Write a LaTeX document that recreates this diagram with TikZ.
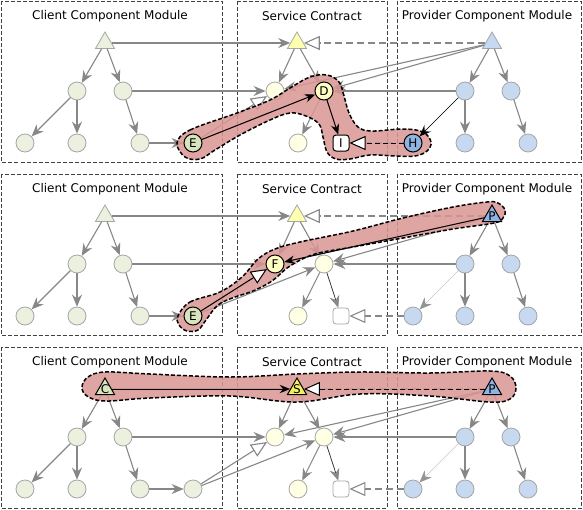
\documentclass[tikz,border=0pt]{standalone}
\usepackage{fontspec}
\setmainfont{DejaVu Sans}
\usetikzlibrary{arrows.meta,shapes.geometric}
\definecolor{clientfill}{HTML}{EBF1DE}
\definecolor{clientdark}{HTML}{D7E4BD}
\definecolor{servfill}{HTML}{FFFFE3}
\definecolor{servtri}{HTML}{FFFFB0}
\definecolor{servdark}{HTML}{FFFFC4}
\definecolor{servvivid}{HTML}{F5F060}
\definecolor{provfill}{HTML}{C6D9F1}
\definecolor{provdark}{HTML}{8DB4E2}
\definecolor{blobred}{HTML}{D99694}

\begin{document}
\begin{tikzpicture}[x=1pt,y=-1pt,font=\fontsize{12}{14}\selectfont]
  \tikzstyle{modbox}=[draw=black!75,line width=0.9pt,dash pattern=on 4pt off 2pt]
  \tikzstyle{comp}=[circle,draw=black!35,line width=0.8pt,minimum size=18pt,inner sep=0pt]
  \tikzstyle{rtri}=[regular polygon,regular polygon sides=3,draw=black!35,line width=0.8pt,minimum size=22pt,inner sep=0pt]
  \tikzstyle{port}=[rectangle,rounded corners=3pt,draw=black!35,fill=white,line width=0.8pt,minimum size=16pt,inner sep=0pt]
  \tikzstyle{hcomp}=[comp,draw=black,line width=1pt]
  \tikzstyle{hrtri}=[rtri,draw=black,line width=1pt]
  \tikzstyle{hport}=[port,draw=black,line width=1pt]
  \tikzstyle{link}=[draw=black!47,line width=1.1pt,-{Stealth[length=12pt,width=10pt,inset=4pt]}]
  \tikzstyle{lite}=[draw=black!22,line width=0.6pt,-{Stealth[length=12pt,width=10pt,inset=4pt,color=black!42]}]
  \tikzstyle{tolink}=[draw=black!85,line width=0.7pt,-{Stealth[length=12pt,width=10pt,inset=4pt,color=black!47]}]
  \tikzstyle{realize}=[draw=black!47,line width=1.1pt,-{Triangle[length=16pt,width=14pt,fill=white]}]
  \tikzstyle{drealize}=[realize,dash pattern=on 7pt off 4pt]
  \tikzstyle{hlink}=[draw=black,line width=1pt,-{Stealth[length=10pt,width=8pt,inset=3pt]}]
  \tikzstyle{hrealize}=[draw=black,line width=1pt,-{Triangle[length=16pt,width=14pt,fill=white]}]
  \tikzstyle{hdrealize}=[hrealize,dash pattern=on 5pt off 3pt]
  \tikzstyle{hblob}=[fill=blobred,fill opacity=0.85,draw=black,line width=1.5pt,dash pattern=on 4pt off 2pt]
  \useasboundingbox (0,0) rectangle (583,509);
  \fill[white] (0,0) rectangle (583,509);

  % the three copies of the same module picture
  \foreach \p/\o in {1/0,2/173,3/346} {
    \draw[modbox] (1.5,1+\o) rectangle (222,162+\o);
    \draw[modbox] (237,1+\o) rectangle (387,162+\o);
    \draw[modbox] (397,1+\o) rectangle (581.5,162+\o);
    \node (ctitle\p) at (110,16+\o) {Client Component Module};
    \node (stitle\p) at (312,16+\o) {Service Contract};
    \node (ptitle\p) at (487,16+\o) {Provider Component Module};
    % client tree
    \node[rtri,fill=clientfill] (ct\p) at (105,43+\o) {};
    \node[comp,fill=clientfill] (ca\p) at (77,91+\o) {};
    \node[comp,fill=clientfill] (cb\p) at (123,91+\o) {};
    \node[comp,fill=clientfill] (cc\p) at (25,143+\o) {};
    \node[comp,fill=clientfill] (cd\p) at (77,143+\o) {};
    \node[comp,fill=clientfill] (ce\p) at (140,143+\o) {};
    \node[comp,fill=clientfill] (cf\p) at (193,143+\o) {};
    % service contract
    \node[rtri,fill=servtri] (st\p) at (297,43+\o) {};
    \node[comp,fill=servfill] (sa\p) at (275,91+\o) {};
    \node[comp,fill=servfill] (sb\p) at (324,91+\o) {};
    \node[comp,fill=servfill] (sc\p) at (298,143+\o) {};
    \node[port] (sq\p) at (341,143+\o) {};
    % provider tree
    \node[rtri,fill=provfill] (pt\p) at (492,43+\o) {};
    \node[comp,fill=provfill] (pa\p) at (465,91+\o) {};
    \node[comp,fill=provfill] (pb\p) at (511,91+\o) {};
    \node[comp,fill=provfill] (pc\p) at (413,143+\o) {};
    \node[comp,fill=provfill] (pd\p) at (465,143+\o) {};
    \node[comp,fill=provfill] (pe\p) at (528,143+\o) {};
    % edges inside modules
    \draw[link] (ct\p) -- (ca\p);
    \draw[link] (ct\p) -- (cb\p);
    \draw[link] (ca\p) -- (cc\p);
    \draw[link] (ca\p) -- (cd\p);
    \draw[link] (cb\p) -- (ce\p);
    \draw[link] (ce\p) -- (cf\p);
    \draw[link] (st\p) -- (sa\p);
    \draw[link] (st\p) -- (sb\p);
    \draw[link] (sb\p) -- (sc\p);
    \draw[tolink] (sb\p) -- (sq\p);
    \draw[link] (pt\p) -- (pa\p);
    \draw[link] (pt\p) -- (pb\p);
    \draw[lite] (pa\p) -- (pc\p);
    \draw[link] (pa\p) -- (pd\p);
    \draw[link] (pb\p) -- (pe\p);
    % edges across modules
    \draw[link] (ct\p) -- (st\p);
    \draw[link] (cb\p) -- (sa\p);
    \draw[realize] (cf\p) -- (sa\p);
    \draw[link] (cf\p) -- (sb\p);
    \draw[drealize] (pt\p) -- (st\p);
    \draw[link] (pt\p) -- (sa\p);
    \draw[link] (pt\p) -- (sb\p);
    \draw[link] (pa\p) -- (sb\p);
    \draw[drealize] (pc\p) -- (sq\p);
  }

  % top: client part reaches an inner provider part
  \draw[hblob] plot[smooth cycle,tension=0.6] coordinates {(177,143) (190,130) (237,113) (270,100) (290,88) (310,77) (327,75) (339,82) (344,96) (349,113) (358,127) (372,131) (403,129) (423,132) (431,142) (427,151) (415,156) (395,156) (370,155) (350,159) (336,159) (327,152) (323,137) (319,124) (306,116) (290,113) (270,120) (240,135) (215,150) (200,159) (185,157)};
  \node[hcomp,fill=clientdark] (cf1) at (193,143) {E};
  \node[hcomp,fill=servdark] (sb1) at (324,91) {D};
  \node[hport] (sq1) at (341,143) {I};
  \node[hcomp,fill=provdark] (pc1) at (413,143) {H};
  \draw[hlink] (cf1) -- (sb1);
  \draw[hlink] (sb1) -- (sq1);
  \draw[hdrealize] (pc1) -- (sq1);
  \draw[hlink,line width=0.6pt] (pa1) -- (pc1);

  % middle: provider root feeds the contract part
  \draw[hblob] plot[smooth cycle,tension=0.6] coordinates {(178,316) (190,302) (220,292) (242,277) (258,259) (275,249) (300,242) (353,231) (403,218) (453,207) (487,202) (498,203) (505,210) (503,218) (494,223) (453,229) (403,238) (353,247) (315,254) (290,266) (272,281) (253,291) (235,297) (218,305) (206,320) (198,330) (187,331) (179,325)};
  \node[hcomp,fill=clientdark] (cf2) at (193,316) {E};
  \node[hcomp,fill=servdark] (sa2) at (275,264) {F};
  \node[hrtri,fill=provdark,label={[inner sep=0pt]center:P}] (pt2) at (492,216) {};
  \draw[hrealize] (cf2) -- (sa2);
  \draw[hlink] (pt2) -- (sa2);

  % bottom: roots of all three modules
  \draw[hblob] plot[smooth cycle,tension=0.6] coordinates {(82,387) (88,377) (105,372) (150,374) (230,377) (297,374) (360,372) (430,373) (490,371) (510,376) (516,388) (510,399) (490,402) (430,396) (360,394) (297,402) (230,396) (150,398) (105,401) (87,396)};
  \node[hrtri,fill=clientdark,label={[inner sep=0pt]center:C}] (ct3) at (105,389) {};
  \node[hrtri,fill=servvivid,label={[inner sep=0pt]center:S}] (st3) at (297,389) {};
  \node[hrtri,fill=provdark,label={[inner sep=0pt]center:P}] (pt3) at (492,389) {};
  \draw[hlink] (ct3) -- (st3);
  \draw[hdrealize] (pt3) -- (st3);
\end{tikzpicture}
\end{document}
